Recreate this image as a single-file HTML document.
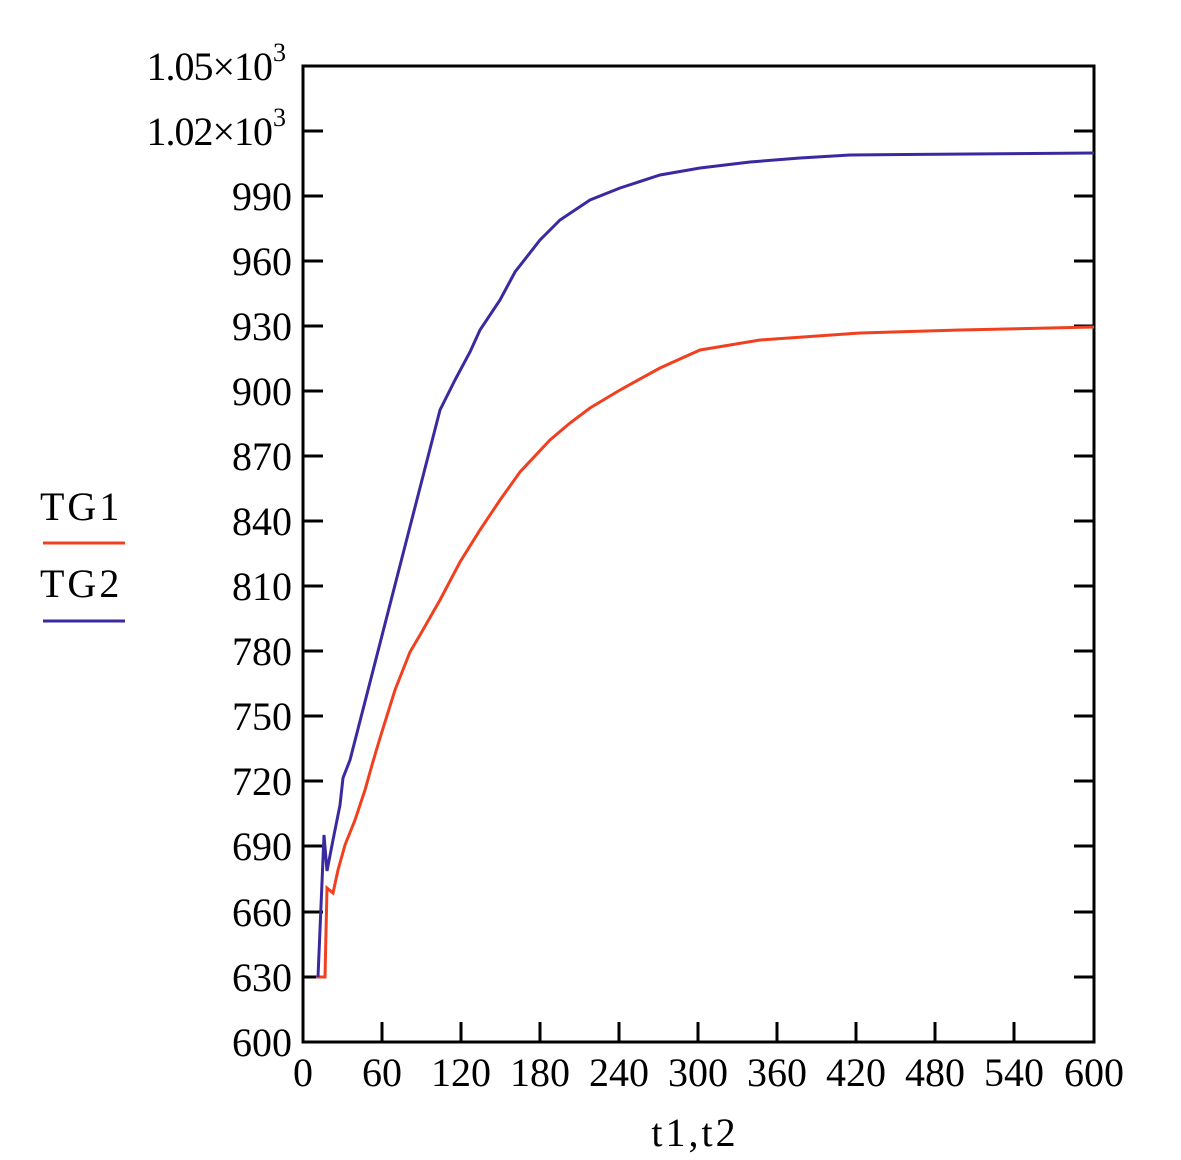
<!DOCTYPE html>
<html><head><meta charset="utf-8"><style>body{margin:0;background:#fff}</style></head><body>
<svg width="1181" height="1155" xmlns="http://www.w3.org/2000/svg" font-family="Liberation Serif, serif" font-size="40">
<rect width="1181" height="1155" fill="#fff"/>
<g stroke="#000" stroke-width="3">
<rect x="303" y="66" width="791" height="976" fill="none"/>
<path d="M303 977h20M303 912h20M303 846h20M303 781h20M303 716h20M303 651h20M303 586h20M303 521h20M303 456h20M303 391h20M303 326h20M303 261h20M303 196h20M303 131h20
M1094 977h-20M1094 912h-20M1094 846h-20M1094 781h-20M1094 716h-20M1094 651h-20M1094 586h-20M1094 521h-20M1094 456h-20M1094 391h-20M1094 326h-20M1094 261h-20M1094 196h-20M1094 131h-20
M382 1042v-20M461 1042v-20M540 1042v-20M619 1042v-20M698 1042v-20M777 1042v-20M856 1042v-20M935 1042v-20M1014 1042v-20"/>
</g>
<g text-anchor="end">
<text x="292" y="1056">600</text><text x="292" y="991">630</text><text x="292" y="926">660</text><text x="292" y="860">690</text><text x="292" y="795">720</text><text x="292" y="730">750</text><text x="292" y="665">780</text><text x="292" y="600">810</text><text x="292" y="535">840</text><text x="292" y="470">870</text><text x="292" y="405">900</text><text x="292" y="340">930</text><text x="292" y="275">960</text><text x="292" y="210">990</text>
<text x="272" y="145" letter-spacing="-1">1.02×10</text><text x="272" y="80" letter-spacing="-1">1.05×10</text>
</g>
<text x="273" y="126" font-size="26">3</text><text x="273" y="61" font-size="26">3</text>
<g text-anchor="middle">
<text x="303" y="1086">0</text><text x="382" y="1086">60</text><text x="461" y="1086">120</text><text x="540" y="1086">180</text><text x="619" y="1086">240</text><text x="698" y="1086">300</text><text x="777" y="1086">360</text><text x="856" y="1086">420</text><text x="935" y="1086">480</text><text x="1014" y="1086">540</text><text x="1094" y="1086">600</text>
<text x="695" y="1146" letter-spacing="3">t1,t2</text>
</g>
<text x="40" y="520" letter-spacing="3">TG1</text>
<line x1="43" y1="543" x2="125" y2="543" stroke="#f04020" stroke-width="3"/>
<text x="40" y="597" letter-spacing="3">TG2</text>
<line x1="43" y1="621" x2="125" y2="621" stroke="#3a2aa0" stroke-width="3"/>
<polyline fill="none" stroke="#f04020" stroke-width="3" points="316,977 325,977 327,888 333,893 338,870 345,845 355,820 365,790 372,765 380,738 395,690 410,652 420,635 440,600 460,562 480,530 500,500 520,472 550,440 570,423 590,408 620,390 660,368 700,350 760,340 860,333 960,330 1094,327"/>
<polyline fill="none" stroke="#3a2aa0" stroke-width="3" points="318,977 324,835 327,871 333,840 340,805 343,778 350,760 440,410 455,380 470,352 480,330 500,300 515,272 540,240 560,220 590,200 620,188 660,175 700,168 750,162 800,158 850,155 1094,153"/>
</svg>
</body></html>
